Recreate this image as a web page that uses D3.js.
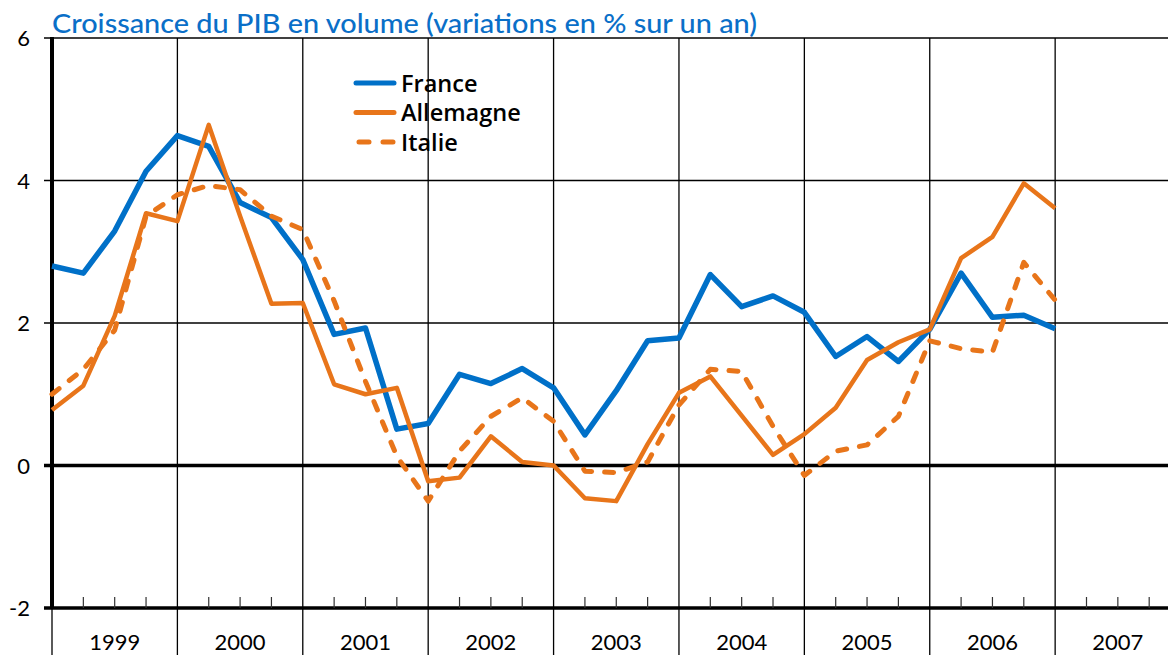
<!DOCTYPE html>
<html>
<head>
<meta charset="utf-8">
<script src="https://cdn.jsdelivr.net/npm/d3@7"></script>
<style>
  body { margin: 0; background: #fff; }
  svg text { font-family: "Lato", "DejaVu Sans", sans-serif; }
</style>
</head>
<body>
<div class="chart"></div>
<script>
// quarterly data, 1999 Q1 -> 2007 Q1
var years = ["1999", "2000", "2001", "2002", "2003", "2004", "2005", "2006", "2007"];
var yTicks = [-2, 0, 2, 4, 6];

var france = [2.80, 2.70, 3.29, 4.13, 4.63, 4.48, 3.69, 3.48, 2.89, 1.84, 1.93, 0.51, 0.59,
              1.28, 1.15, 1.36, 1.09, 0.43, 1.05, 1.75, 1.79, 2.68, 2.23, 2.38, 2.15, 1.53,
              1.81, 1.46, 1.91, 2.70, 2.08, 2.11, 1.92];
var allemagne = [0.78, 1.12, 2.10, 3.54, 3.43, 4.78, 3.50, 2.27, 2.28, 1.14, 1.00, 1.09, -0.22,
                 -0.17, 0.41, 0.05, 0.00, -0.46, -0.50, 0.30, 1.02, 1.25, 0.70, 0.15, 0.44, 0.81,
                 1.48, 1.73, 1.91, 2.91, 3.21, 3.96, 3.61];
var italie = [1.00, 1.35, 1.90, 3.50, 3.80, 3.93, 3.87, 3.50, 3.31, 2.31, 1.18, 0.13, -0.50,
              0.20, 0.69, 0.95, 0.62, -0.08, -0.10, 0.05, 0.85, 1.35, 1.32, 0.55, -0.14, 0.20,
              0.29, 0.69, 1.75, 1.64, 1.59, 2.85, 2.32];

var seriesList = [
    { name: "France", values: france, color: "#0070c8", width: 5.5, dash: null },
    { name: "Italie", values: italie, color: "#e8751a", width: 5, dash: "9,13" },
    { name: "Allemagne", values: allemagne, color: "#e8751a", width: 4.5, dash: null }
];
var legendOrder = ["France", "Allemagne", "Italie"];

var svgWidth = 1170,
    svgHeight = 655;

var svg = d3.select(".chart")
    .append("svg")
    .attr("width", svgWidth)
    .attr("height", svgHeight);

// x in years from 1999, y in %
var x = d3.scaleLinear().domain([0, 8.9]).range([52, 1168]);
var y = d3.scaleLinear().domain([-2, 6]).range([608, 38]);

// title
svg.append("text")
    .attr("x", 52)
    .attr("y", 33)
    .attr("font-size", 27)
    .attr("font-weight", 500)
    .attr("fill", "#0a6fc8")
    .attr("textLength", 705)
    .attr("lengthAdjust", "spacingAndGlyphs")
    .text("Croissance du PIB en volume (variations en % sur un an)");

// horizontal grid lines
var grid = svg.append("g").attr("class", "grid");
grid.selectAll("line.h")
    .data(yTicks)
    .enter().append("line")
    .attr("class", "h")
    .attr("x1", 44)
    .attr("x2", x.range()[1])
    .attr("y1", function(d) { return y(d); })
    .attr("y2", function(d) { return y(d); })
    .attr("stroke", "#000")
    .attr("stroke-width", function(d) { return d <= 0 ? 3.5 : 1.3; });

// vertical year lines (run down through the label band)
var yearIdx = d3.range(1, years.length);
grid.selectAll("line.v")
    .data(yearIdx)
    .enter().append("line")
    .attr("class", "v")
    .attr("x1", function(d) { return x(d); })
    .attr("x2", function(d) { return x(d); })
    .attr("y1", y(6))
    .attr("y2", 655)
    .attr("stroke", "#000")
    .attr("stroke-width", 1.3);

// y axis line, thin below -2
grid.append("line")
    .attr("x1", x(0)).attr("x2", x(0))
    .attr("y1", y(-2)).attr("y2", 655)
    .attr("stroke", "#000").attr("stroke-width", 1.3);
grid.append("line")
    .attr("x1", x(0)).attr("x2", x(0))
    .attr("y1", y(6) - 1).attr("y2", y(-2))
    .attr("stroke", "#000").attr("stroke-width", 4);

// quarter ticks on the -2 line
var quarters = d3.range(0, 36).filter(function(q) { return q % 4 !== 0 && q / 4 < 8.9; });
grid.selectAll("line.q")
    .data(quarters)
    .enter().append("line")
    .attr("class", "q")
    .attr("x1", function(d) { return x(d / 4); })
    .attr("x2", function(d) { return x(d / 4); })
    .attr("y1", y(-2) - 11)
    .attr("y2", y(-2))
    .attr("stroke", "#333")
    .attr("stroke-width", 1.2);

// y labels
svg.selectAll("text.ylab")
    .data(yTicks)
    .enter().append("text")
    .attr("class", "ylab")
    .attr("x", 30)
    .attr("y", function(d) { return y(d) + 8; })
    .attr("text-anchor", "end")
    .attr("font-size", 22)
    .text(function(d) { return d; });

// year labels
svg.selectAll("text.year")
    .data(years)
    .enter().append("text")
    .attr("class", "year")
    .attr("x", function(d, i) { return x(i + 0.5); })
    .attr("y", 650)
    .attr("text-anchor", "middle")
    .attr("font-size", 22)
    .text(function(d) { return d; });

// lines
var line = d3.line()
    .x(function(d, i) { return x(i / 4); })
    .y(function(d) { return y(d); });

svg.selectAll("path.serie")
    .data(seriesList)
    .enter().append("path")
    .attr("class", "serie")
    .attr("d", function(d) { return line(d.values); })
    .attr("fill", "none")
    .attr("stroke", function(d) { return d.color; })
    .attr("stroke-width", function(d) { return d.width; })
    .attr("stroke-dasharray", function(d) { return d.dash; })
    .attr("stroke-linecap", function(d) { return d.dash ? "round" : "butt"; })
    .attr("stroke-linejoin", "round");

// legend
var legend = svg.append("g").attr("class", "legend");
legendOrder.forEach(function(name, i) {
    var s = seriesList.filter(function(d) { return d.name === name; })[0];
    var ly = 83 + i * 29.5;
    legend.append("line")
        .attr("x1", s.dash ? 359 : 356)
        .attr("x2", 394)
        .attr("y1", ly).attr("y2", ly)
        .attr("stroke", s.color)
        .attr("stroke-width", 5)
        .attr("stroke-linecap", "round")
        .attr("stroke-dasharray", s.dash ? "10,14" : null);
    legend.append("text")
        .attr("x", 401)
        .attr("y", ly + 8.5)
        .attr("font-size", 23.5)
        .attr("font-weight", 600)
        .style("font-family", "'Open Sans', sans-serif")
        .text(name);
});
</script>
</body>
</html>
